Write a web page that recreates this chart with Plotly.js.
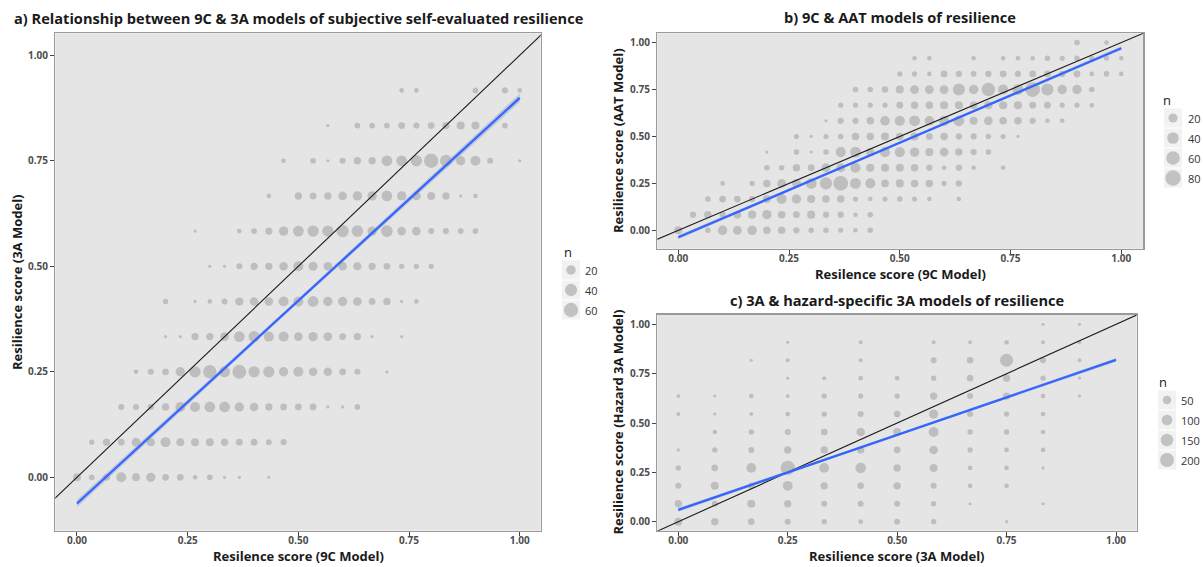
<!DOCTYPE html>
<html><head><meta charset="utf-8">
<script src="https://cdn.plot.ly/plotly-3.0.1.min.js"></script>
<style>html,body{margin:0;padding:0;background:#fff}#chart{width:1203px;height:567px}</style>
</head><body><div id="chart"></div>
<script>
// ---------------- DATA ----------------
// Panel a: x = k/30 (9C), y = j/12 (3A); counts per row j (k = 0..30)
const aRows = [
 [12,4,7,23,12,19,7,7,2,4,1,1,0,1,0,0,0,0,0,0,0,0,0,0,0,0,0,0,0,0,0],
 [0,3,9,7,15,12,23,12,12,12,9,7,7,4,5,0,0,0,0,0,0,0,0,0,0,0,0,0,0,0,0],
 [0,0,0,5,5,5,9,23,23,28,28,19,15,9,7,7,7,1,1,4,0,0,0,0,0,0,0,0,0,0,0],
 [0,0,0,0,2,5,7,19,32,50,30,55,32,32,19,23,15,15,7,5,0,1,0,0,0,0,0,0,0,0,0],
 [0,0,0,0,0,0,1,1,9,9,15,28,32,23,23,15,19,15,7,9,1,0,1,0,0,0,0,0,0,0,0],
 [0,0,0,0,0,0,3,0,1,2,5,12,15,15,23,23,28,19,19,15,7,9,1,2,0,0,0,0,0,0,0],
 [0,0,0,0,0,0,0,0,0,1,1,5,9,9,15,23,17,15,15,12,9,7,3,3,3,0,0,0,0,0,0],
 [0,0,0,0,0,0,0,0,1,0,0,2,4,9,19,28,32,32,40,35,19,35,15,15,5,5,4,4,0,0,0],
 [0,0,0,0,0,0,0,0,0,0,0,0,0,2,0,9,7,9,15,19,19,28,19,15,12,9,1,2,0,0,0],
 [0,0,0,0,0,0,0,0,0,0,0,0,0,0,2,0,4,1,5,9,9,28,28,32,60,37,19,23,5,0,1],
 [0,0,0,0,0,0,0,0,0,0,0,0,0,0,0,0,0,1,0,4,4,4,7,5,7,9,12,12,0,4,0],
 [0,0,0,0,0,0,0,0,0,0,0,0,0,0,0,0,0,0,0,0,0,0,2,2,0,0,0,4,0,5,2]
];
// Panel b: x = k/30 (9C), y = j/12 (AAT)
const bRows = [
 [14,0,4,22,18,22,11,11,6,4,4,3,2,4,0,0,0,0,0,0,0,0,0,0,0,0,0,0,0,0,0],
 [0,6,11,6,11,14,22,11,8,14,6,6,2,4,0,0,0,0,0,0,0,0,0,0,0,0,0,0,0,0,0],
 [0,0,4,8,8,6,14,27,22,14,11,11,3,2,3,4,3,2,0,2,0,0,0,0,0,0,0,0,0,0,0],
 [0,0,0,2,0,3,11,18,18,32,44,73,32,27,12,14,11,11,3,6,0,0,0,0,0,0,0,0,0,0,0],
 [0,0,0,0,0,0,4,4,11,8,18,18,27,14,14,14,11,6,2,6,2,0,2,0,0,0,0,0,0,0,0],
 [0,0,0,0,0,0,1,0,4,1,4,27,32,14,27,27,22,14,18,11,6,4,0,0,0,0,0,0,0,0,0],
 [0,0,0,0,0,0,0,0,3,1,3,4,11,11,14,11,14,8,11,6,6,4,3,1,0,0,0,0,0,0,0],
 [0,0,0,0,0,0,0,0,0,0,1,6,6,11,24,27,32,22,27,32,14,18,11,11,6,2,2,0,0,0,0],
 [0,0,0,0,0,0,0,0,0,0,0,3,3,3,3,8,11,11,14,14,11,14,14,14,8,8,3,3,2,0,0],
 [0,0,0,0,0,0,0,0,0,0,0,0,4,4,7,14,18,18,18,44,22,57,27,32,73,44,22,22,4,0,0],
 [0,0,0,0,0,0,0,0,0,0,0,0,0,0,0,3,3,2,8,6,4,6,8,6,8,8,6,8,2,4,2],
 [0,0,0,0,0,0,0,0,0,0,0,0,0,0,0,0,2,2,0,0,2,0,2,2,2,4,3,4,3,3,2],
 [0,0,0,0,0,0,0,0,0,0,0,0,0,0,0,0,0,0,0,0,0,0,0,0,0,0,0,4,0,2,0]
];
// Panel c: x = k/12 (3A), y = j/11 (Hazard 3A)
const cRows = [
 [41,31,22,15,9,5,15,9,0,1,0,0,0],
 [31,15,41,31,15,15,15,9,1,0,1,0,0],
 [15,41,22,79,31,22,31,15,5,5,0,0,0],
 [9,22,79,217,79,95,31,41,5,5,1,0,0],
 [1,9,15,31,31,31,22,52,9,5,5,0,0],
 [0,5,9,15,22,52,41,79,9,9,5,0,0],
 [2,1,2,5,9,15,22,65,15,9,5,0,0],
 [2,1,5,2,9,9,9,31,15,31,5,1,0],
 [0,0,0,1,2,5,5,9,22,31,9,1,0],
 [0,0,1,2,0,2,0,15,22,170,15,2,0],
 [0,0,0,1,0,2,0,2,2,5,2,2,0],
 [0,0,0,0,0,0,0,0,0,0,1,1,0]
];
const aXSteps = 30, aYSteps = 12;
const bXSteps = 30, bYSteps = 12;
const cXSteps = 12, cYSteps = 11;

// fitted lines, at x = 0, 0.5, 1
const fitX = [0, 0.5, 1];
const fitA = [-0.062, 0.4185, 0.899];
const fitALo = [-0.071, 0.414, 0.889];
const fitAHi = [-0.053, 0.423, 0.909];
const fitB = [-0.037, 0.4665, 0.970];
const fitBLo = [-0.047, 0.461, 0.960];
const fitBHi = [-0.027, 0.472, 0.980];
const fitC = [0.060, 0.440, 0.820];
const fitCLo = [0.050, 0.435, 0.810];
const fitCHi = [0.070, 0.445, 0.830];
const idLine = [-0.3, 1.3];

const legA = [20, 40, 60];
const legB = [20, 40, 60, 80];
const legC = [50, 100, 150, 200];
const tickVals = [0, 0.25, 0.5, 0.75, 1];
const tickText = ['0.00', '0.25', '0.50', '0.75', '1.00'];

const titles = {
  a: 'a) Relationship between 9C & 3A models of subjective self-evaluated resilience',
  b: 'b) 9C & AAT models of resilience',
  c: 'c) 3A & hazard-specific 3A models of resilience'
};
const xTitles = {a: 'Resilence score (9C Model)', b: 'Resilence score (9C Model)', c: 'Resilience score (3A Model)'};
const yTitles = {a: 'Resilience score (3A Model)', b: 'Resilience score (AAT Model)', c: 'Resilience score (Hazard 3A Model)'};

// ---------------- STYLE / HELPERS ----------------
const W = 1203, H = 567;
const FONT = 'Open Sans, DejaVu Sans, sans-serif';
const DOT = '#aeaeae';
function sizer(nmax, dmin, dmax) {
  return n => dmin + (dmax - dmin) * Math.sqrt(Math.max(0, n - 1) / (nmax - 1));
}
const sizeA = sizer(65, 3.2, 14.8);
const sizeB = sizer(90, 3.2, 16);
const sizeC = sizer(225, 3.2, 14.5);

function pointsFrom(rows, xs, ys) {
  const x = [], y = [], n = [];
  rows.forEach((row, j) => row.forEach((v, k) => {
    if (v > 0) { x.push(k / xs); y.push(j / ys); n.push(v); }
  }));
  return {x, y, n};
}

const traces = [];
function panel(rows, xs, ys, sz, fit, lo, hi, xa, ya) {
  const p = pointsFrom(rows, xs, ys);
  traces.push({type: 'scatter', mode: 'markers', x: p.x, y: p.y, xaxis: xa, yaxis: ya,
    marker: {size: p.n.map(sz), color: DOT, line: {width: 0}}, hoverinfo: 'x+y+text', text: p.n.map(v => 'n=' + v)});
  traces.push({type: 'scatter', mode: 'lines', x: idLine, y: idLine, xaxis: xa, yaxis: ya,
    line: {color: '#1a1a1a', width: 1.1}});
  traces.push({type: 'scatter', mode: 'lines', x: fitX, y: lo, xaxis: xa, yaxis: ya,
    line: {width: 0}, hoverinfo: 'skip'});
  traces.push({type: 'scatter', mode: 'lines', x: fitX, y: hi, xaxis: xa, yaxis: ya, fill: 'tonexty',
    fillcolor: 'rgba(150,160,200,0.45)', line: {width: 0}, hoverinfo: 'skip'});
  traces.push({type: 'scatter', mode: 'lines', x: fitX, y: fit, xaxis: xa, yaxis: ya,
    line: {color: '#3366ff', width: 2.3}});
}
panel(aRows, aXSteps, aYSteps, sizeA, fitA, fitALo, fitAHi, 'x', 'y');
panel(bRows, bXSteps, bYSteps, sizeB, fitB, fitBLo, fitBHi, 'x2', 'y2');
panel(cRows, cXSteps, cYSteps, sizeC, fitC, fitCLo, fitCHi, 'x3', 'y3');

// pixel helpers
const px = v => v / W;
const py = v => 1 - v / H;

// panels in pixels: [left, right, top, bottom] and ranges
const P = {
  a: {l: 55.3, r: 540.7, t: 33.3, b: 530.7, xr: [-0.049, 1.0474], yr: [-0.1265, 1.052]},
  b: {l: 657.3, r: 1143.3, t: 33.3, b: 248.7, xr: [-0.0474, 1.0497], yr: [-0.098, 1.0496]},
  c: {l: 657.3, r: 1136.7, t: 314.5, b: 530.7, xr: [-0.048, 1.0473], yr: [-0.0456, 1.050]}
};
function ax(p) {
  return {tickvals: tickVals, ticktext: tickText,
    ticks: 'outside', ticklen: 4, tickwidth: 1, tickcolor: '#444', showgrid: false, zeroline: false,
    showline: true, mirror: true, linecolor: '#9a9a9a', linewidth: 1.3, fixedrange: true,
    tickfont: {family: FONT, size: 10, color: '#4d4d4d', weight: 'bold'}};
}
function xax(p, anchor) {
  return Object.assign(ax(p), {domain: [px(p.l), px(p.r)], range: p.xr, anchor, ticklabelstandoff: -4});
}
function yax(p, anchor) {
  return Object.assign(ax(p), {domain: [py(p.b), py(p.t)], range: p.yr, anchor});
}
const layout = {
  width: W, height: H, margin: {l: 0, r: 0, t: 0, b: 0}, showlegend: false,
  paper_bgcolor: '#ffffff', plot_bgcolor: 'rgba(0,0,0,0)',
  xaxis: xax(P.a, 'y'), yaxis: yax(P.a, 'x'),
  xaxis2: xax(P.b, 'y2'), yaxis2: yax(P.b, 'x2'),
  xaxis3: xax(P.c, 'y3'), yaxis3: yax(P.c, 'x3'),
  xaxis4: {domain: [0, 1], range: [0, W], visible: false, fixedrange: true, anchor: 'y4'},
  yaxis4: {domain: [0, 1], range: [H, 0], visible: false, fixedrange: true, anchor: 'x4'},
  shapes: [], annotations: []
};
['', '2', '3'].forEach(s => layout.shapes.push({type: 'rect', xref: 'x' + s + ' domain', yref: 'y' + s + ' domain',
  x0: 0, x1: 1, y0: 0, y1: 1, fillcolor: '#e5e5e5', line: {width: 0}, layer: 'below'}));

function ann(text, x, y, opts) {
  layout.annotations.push(Object.assign({text, x: px(x), y: py(y), xref: 'paper', yref: 'paper',
    showarrow: false, xanchor: 'center', yanchor: 'middle',
    font: {family: FONT, size: 13, color: '#1a1a1a', weight: 'bold'}}, opts || {}));
}
const TF = {family: FONT, size: 14.6, color: '#1a1a1a', weight: 'bold'};
ann(titles.a, (P.a.l + P.a.r) / 2, 18, {font: TF});
ann(titles.b, (P.b.l + P.b.r) / 2, 17, {font: TF});
ann(titles.c, (P.c.l + P.c.r) / 2, 300, {font: TF});
ann(xTitles.a, (P.a.l + P.a.r) / 2, 556);
ann(xTitles.b, (P.b.l + P.b.r) / 2, 274);
ann(xTitles.c, (P.c.l + P.c.r) / 2, 556);
ann(yTitles.a, 17, (P.a.t + P.a.b) / 2, {textangle: -90});
ann(yTitles.b, 618, (P.b.t + P.b.b) / 2, {textangle: -90});
ann(yTitles.c, 618, (P.c.t + P.c.b) / 2, {textangle: -90});

// legends
function legend(vals, sz, cx, ys, titleXY, labelX) {
  ann('n', titleXY[0], titleXY[1], {xanchor: 'left', font: {family: FONT, size: 13, color: '#1a1a1a'}});
  const lx = [], ly = [], ls = [];
  vals.forEach((v, i) => {
    layout.shapes.push({type: 'rect', xref: 'x4', yref: 'y4', x0: cx - 9, x1: cx + 9,
      y0: ys[i] - 9.5, y1: ys[i] + 9.5, fillcolor: '#f2f2f2', line: {width: 0}, layer: 'below'});
    lx.push(cx); ly.push(ys[i]); ls.push(sz(v));
    ann(String(v), labelX, ys[i], {xanchor: 'left', font: {family: FONT, size: 11, color: '#333'}});
  });
  traces.push({type: 'scatter', mode: 'markers', x: lx, y: ly, xaxis: 'x4', yaxis: 'y4', cliponaxis: false,
    marker: {size: ls, color: DOT, line: {width: 0}}, hoverinfo: 'skip'});
}
legend(legA, sizeA, 571, [270, 290, 310], [562, 252], 583);
legend(legB, sizeB, 1173, [118, 138, 158, 178], [1161, 100], 1186);
legend(legC, sizeC, 1167, [400, 420, 440, 460], [1157, 382], 1179);

Plotly.newPlot('chart', traces, layout, {staticPlot: true, displayModeBar: false});
</script></body></html>
